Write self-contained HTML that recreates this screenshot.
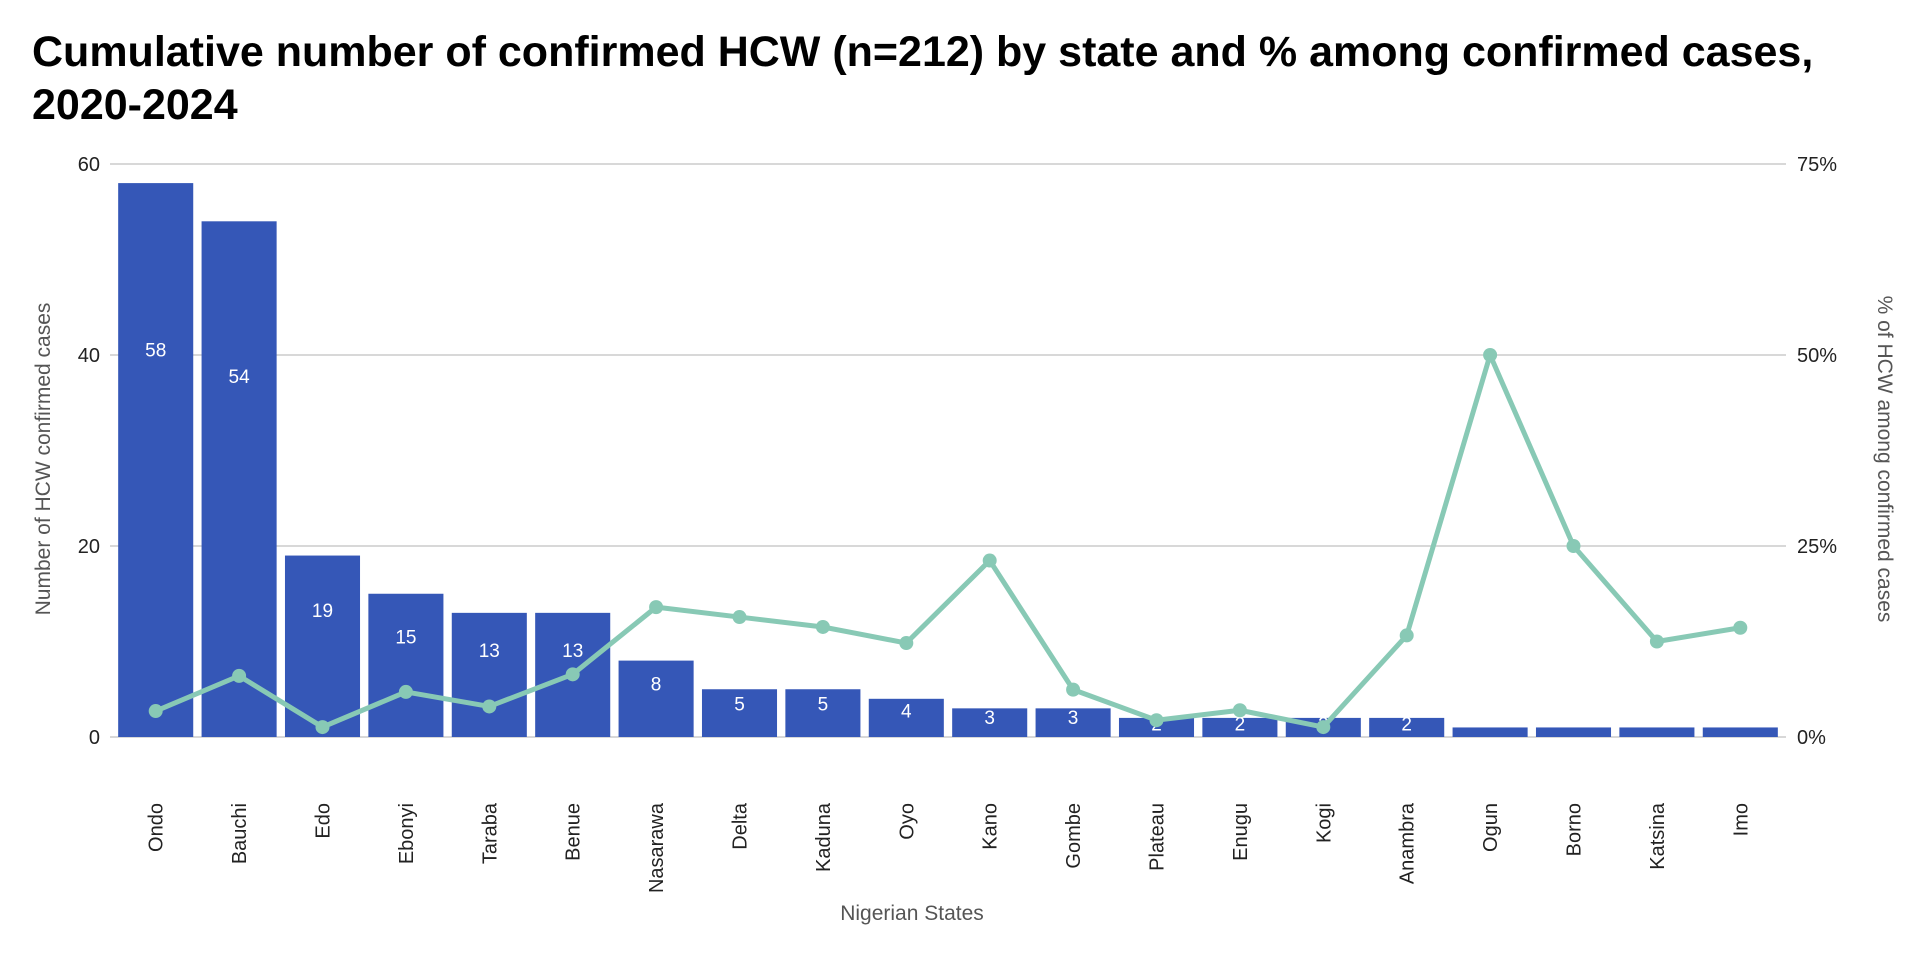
<!DOCTYPE html>
<html><head><meta charset="utf-8"><style>
html,body{margin:0;padding:0;background:#fff;}
svg{display:block;font-family:"Liberation Sans",Arial,sans-serif;}
</style></head><body>
<svg id="chart" width="1920" height="960" viewBox="0 0 1920 960">
<text x="32" y="66" font-size="43" font-weight="bold" fill="#000">Cumulative number of confirmed HCW (n=212) by state and % among confirmed cases,</text>
<text x="32" y="119" font-size="43" font-weight="bold" fill="#000">2020-2024</text>
<g id="grid"></g>
<g id="bars"></g>
<g id="line"></g>
<g id="axes"></g>
<text x="912" y="920" font-size="21" fill="#555" text-anchor="middle">Nigerian States</text>
<text transform="translate(50,459) rotate(-90)" font-size="21" fill="#555" text-anchor="middle">Number of HCW confirmed cases</text>
<text transform="translate(1878,459) rotate(90)" font-size="21" fill="#555" text-anchor="middle">% of HCW among confirmed cases</text>
</svg>
<script>
const categories = ["Ondo","Bauchi","Edo","Ebonyi","Taraba","Benue","Nasarawa","Delta","Kaduna","Oyo","Kano","Gombe","Plateau","Enugu","Kogi","Anambra","Ogun","Borno","Katsina","Imo"];
const counts = [58,54,19,15,13,13,8,5,5,4,3,3,2,2,2,2,1,1,1,1];
const percents = [3.4,8.0,1.3,5.9,4.0,8.2,17.0,15.7,14.4,12.3,23.1,6.2,2.2,3.5,1.3,13.3,50,25,12.5,14.3];
const leftTicks = [0,20,40,60];
const rightTicks = [0,25,50,75];

const NS="http://www.w3.org/2000/svg";
const plotL=114, plotR=1782, yTop=164, yBot=737;
const band=(plotR-plotL)/categories.length, barW=band*0.9;
const yL=v=>yBot-(v/60)*(yBot-yTop);
const yR=v=>yBot-(v/75)*(yBot-yTop);
const xC=i=>plotL+band*(i+0.5);
function mk(tag,attrs,parent,text){const e=document.createElementNS(NS,tag);for(const k in attrs)e.setAttribute(k,attrs[k]);if(text!==undefined)e.textContent=text;parent.appendChild(e);return e;}
const grid=document.getElementById('grid'),bars=document.getElementById('bars'),line=document.getElementById('line'),axes=document.getElementById('axes');
leftTicks.forEach((t,i)=>{
  const g=mk('line',{x1:110,x2:1786,y1:yL(t),y2:yL(t),stroke:'#ccc','stroke-width':1.5},grid);
  
  
  const a=mk('text',{x:100,y:yL(t)+7,'font-size':20,'text-anchor':'end',fill:'#222'},axes,String(t));
  
  
});
rightTicks.forEach(t=>{
  const a=mk('text',{x:1797,y:yR(t)+7,'font-size':20,fill:'#222'},axes,t+'%');
  
  
});
categories.forEach((c,i)=>{
  const r=mk('rect',{x:xC(i)-barW/2,y:yL(counts[i]),width:barW,height:yBot-yL(counts[i]),fill:'#3557b7'},bars);
  
  
  if(counts[i]>=2){
    const l=mk('text',{x:xC(i),y:yL(counts[i]*0.7)+7,'font-size':19,fill:'#fff','text-anchor':'middle'},bars,String(counts[i]));
    
    
  }
  const x=mk('text',{transform:`translate(${xC(i)+7},803) rotate(-90)`,'font-size':20,fill:'#222','text-anchor':'end'},axes,c);
  
  
});
const pts=percents.map((p,i)=>xC(i)+','+yR(p)).join(' ');
const pl=mk('polyline',{points:pts,fill:'none',stroke:'#88c9b5','stroke-width':5,'stroke-linejoin':'round'},line);


percents.forEach((p,i)=>{
  const c=mk('circle',{cx:xC(i),cy:yR(p),r:7,fill:'#88c9b5'},line);
  
  
});
</script>
</body></html>
